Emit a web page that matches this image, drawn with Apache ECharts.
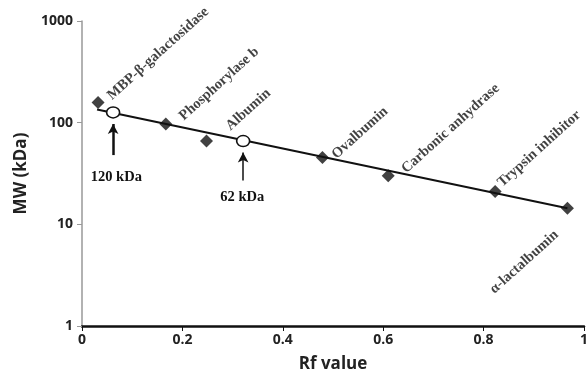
<!DOCTYPE html>
<html>
<head>
<meta charset="utf-8">
<script src="https://cdn.jsdelivr.net/npm/echarts@6/dist/echarts.min.js"></script>
<style>
html, body { margin: 0; padding: 0; background: #fff; }
#chart { width: 587px; height: 373px; }
</style>
</head>
<body>
<div id="chart"></div>
<script>
// standard proteins
var proteins = ['MBP-β-galactosidase', 'Phosphorylase b', 'Albumin', 'Ovalbumin', 'Carbonic anhydrase', 'Trypsin inhibitor', 'α-lactalbumin'];
var rf = [0.032, 0.167, 0.248, 0.479, 0.61, 0.823, 0.967];
var mw = [158, 97, 66, 45.5, 30, 21, 14.4];
// unknown bands
var unknownNames = ['120 kDa', '62 kDa'];
var unknownRf = [0.062, 0.321];
var unknownMw = [126, 66];
// arrows under unknowns
var arrowFromMw = [48, 27];
var arrowToMw = [97, 51];
// fitted line ends
var fitRf = [0.03, 0.967];
var fitMw = [135, 14.4];

var chart = echarts.init(document.getElementById('chart'));

// label anchor (relative to symbol box), kept apart from the data
var labelPos = [[23, 7], [27, 6], [33, -1], [23, 11], [27, 7], [16, 5], [-64, 95]];
var unknownLabelPos = [[10.5, 71], [6.5, 62]];
var arrowWidth = [2.5, 1.5];

var labelFont = {
    fontFamily: 'Liberation Serif',
    fontWeight: 'bold',
    fontSize: 14.5,
    color: '#111'
};

var stdData = proteins.map(function (name, i) {
    return {
        name: name,
        value: [rf[i], mw[i]],
        label: Object.assign({
            show: true,
            formatter: name,
            position: labelPos[i],
            rotate: 42,
            align: 'left',
            verticalAlign: 'bottom'
        }, labelFont)
    };
});

var unkData = unknownNames.map(function (name, i) {
    return {
        name: name,
        value: [unknownRf[i], unknownMw[i]],
        label: Object.assign({
            show: true,
            formatter: name,
            position: unknownLabelPos[i],
            align: 'center',
            verticalAlign: 'middle'
        }, labelFont)
    };
});

var arrows = unknownRf.map(function (x, i) {
    return [
        { coord: [x, arrowFromMw[i]], lineStyle: { width: arrowWidth[i] } },
        { coord: [x, arrowToMw[i]] }
    ];
});

var axisText = {
    fontFamily: 'Open Sans',
    fontWeight: 'bold',
    fontSize: 14,
    color: '#222'
};

var nameText = { fontFamily: 'Open Sans', fontWeight: 'bold', fontSize: 17, color: '#222' };

chart.setOption({
    animation: false,
    grid: { left: 82, right: 3, top: 21, bottom: 47, containLabel: false, outerBoundsMode: 'none' },
    xAxis: {
        type: 'value',
        min: 0,
        max: 1,
        interval: 0.2,
        name: 'Rf value',
        nameLocation: 'middle',
        nameGap: 30,
        nameTextStyle: nameText,
        axisLine: { lineStyle: { color: '#111', width: 2.5 } },
        axisTick: { show: true, length: 5, lineStyle: { color: '#111' } },
        axisLabel: Object.assign({ margin: 7 }, axisText),
        splitLine: { show: false }
    },
    yAxis: {
        type: 'log',
        logBase: 10,
        min: 1,
        max: 1000,
        name: 'MW (kDa)',
        nameLocation: 'middle',
        nameGap: 49,
        nameTextStyle: nameText,
        axisLine: { show: true, lineStyle: { color: '#999', width: 1.5 } },
        axisTick: { show: true, length: 5, lineStyle: { color: '#999' } },
        axisLabel: Object.assign({
            margin: 9,
            formatter: function (v) { return String(v); }
        }, axisText),
        splitLine: { show: false }
    },
    series: [
        {
            type: 'line',
            data: fitRf.map(function (x, i) { return [x, fitMw[i]]; }),
            symbol: 'none',
            lineStyle: { color: '#111', width: 2 },
            z: 1
        },
        {
            type: 'scatter',
            data: stdData,
            symbol: 'diamond',
            symbolSize: 13,
            itemStyle: { color: '#111' },
            z: 2
        },
        {
            type: 'scatter',
            data: unkData,
            symbol: 'circle',
            symbolSize: [13, 11],
            itemStyle: { color: '#fff', borderColor: '#111', borderWidth: 1.5, opacity: 1 },
            z: 3,
            markLine: {
                silent: true,
                symbol: ['none', 'arrow'],
                symbolSize: [8, 10],
                label: { show: false },
                lineStyle: { color: '#111', type: 'solid' },
                data: arrows
            }
        }
    ]
});
</script>
</body>
</html>
